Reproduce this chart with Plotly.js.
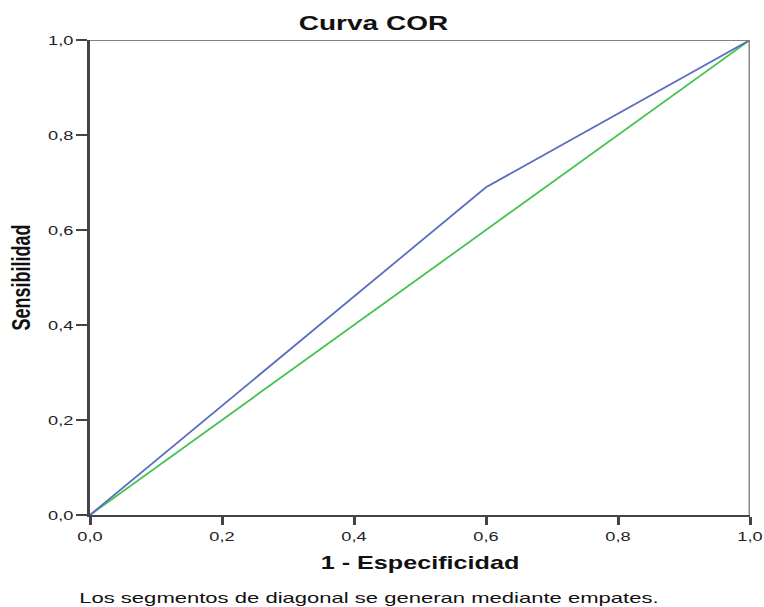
<!DOCTYPE html>
<html>
<head>
<meta charset="utf-8">
<script src="https://cdn.plot.ly/plotly-3.0.1.min.js"></script>
<style>html,body{margin:0;padding:0;background:#fff;}#chart{width:764px;height:607px;}</style>
</head>
<body>
<div id="chart"></div>
<script>
const rocX = [0, 0.6, 1];
const rocY = [0, 0.69, 1];
const refX = [0, 1];
const refY = [0, 1];
const tickVals = [0, 0.2, 0.4, 0.6, 0.8, 1.0];
const tickText = ['0,0', '0,2', '0,4', '0,6', '0,8', '1,0'];

const FONT = 'Liberation Sans, Arial, sans-serif';

const traces = [
  {x: refX, y: refY, mode: 'lines', line: {color: '#45c24f', width: 1.8}, hoverinfo: 'skip'},
  {x: rocX, y: rocY, mode: 'lines', line: {color: '#5a6dc0', width: 1.8}, hoverinfo: 'skip'}
];

const axisCommon = {
  range: [0, 1],
  tickvals: tickVals,
  ticktext: tickText,
  ticks: 'outside',
  tickcolor: '#444',
  showgrid: false,
  zeroline: false,
  showline: true,
  linecolor: '#444',
  tickfont: {family: FONT, size: 13, color: '#222'}
};

const layout = {
  width: 764, height: 607,
  margin: {l: 90, r: 14, t: 40, b: 92},
  paper_bgcolor: '#fff', plot_bgcolor: '#fff',
  showlegend: false,
  title: {text: '<b>Curva COR</b>', x: 0.489, xanchor: 'center', y: 0.962, yanchor: 'middle',
          font: {family: FONT, size: 20, color: '#111'}},
  xaxis: Object.assign({}, axisCommon, {
    ticklen: 8, tickwidth: 3, linewidth: 2,
    title: {text: '<b>1 - Especificidad</b>', standoff: 14,
            font: {family: FONT, size: 18, color: '#111'}}
  }),
  yaxis: Object.assign({}, axisCommon, {
    ticklen: 11, tickwidth: 2, linewidth: 3,
    title: {text: '<b>Sensibilidad</b>', standoff: 21,
            font: {family: FONT, size: 18, color: '#111'}}
  }),
  shapes: [
    {type: 'line', xref: 'x', yref: 'y', x0: 0, x1: 1, y0: 1, y1: 1, line: {color: '#808080', width: 2}},
    {type: 'line', xref: 'x', yref: 'y', x0: 1, x1: 1, y0: 0, y1: 1, line: {color: '#888888', width: 3}}
  ],
  annotations: [
    {text: 'Los segmentos de diagonal se generan mediante empates.', xref: 'paper', yref: 'paper',
     x: -0.02, xanchor: 'left', y: -0.1735, yanchor: 'middle', showarrow: false,
     font: {family: FONT, size: 15, color: '#111'}}
  ]
};

function stretch(sel, s, mode) {
  document.querySelectorAll(sel).forEach(el => {
    const t = el.getAttribute('transform') || '';
    if (mode === 'vert') {
      const y = parseFloat(el.getAttribute('y')) || 0;
      el.setAttribute('transform', t + ' translate(0,' + y + ') scale(1,' + s + ') translate(0,' + (-y) + ')');
      return;
    }
    const b = el.getBBox();
    let ax = b.x + b.width / 2;
    if (mode === 'left') ax = b.x;
    if (mode === 'right') ax = b.x + b.width;
    el.setAttribute('transform', t + ' translate(' + ax + ',0) scale(' + s + ',1) translate(' + (-ax) + ',0)');
  });
}

Plotly.newPlot('chart', traces, layout, {staticPlot: true, displayModeBar: false}).then(() => {
  stretch('.gtitle', 1.4, 'mid');
  stretch('.xtitle', 1.4, 'mid');
  stretch('.ytitle', 1.4, 'vert');
  stretch('.xtick text', 1.4, 'mid');
  stretch('.ytick text', 1.4, 'right');
  stretch('.annotation-text', 1.47, 'left');
});
</script>
</body>
</html>
